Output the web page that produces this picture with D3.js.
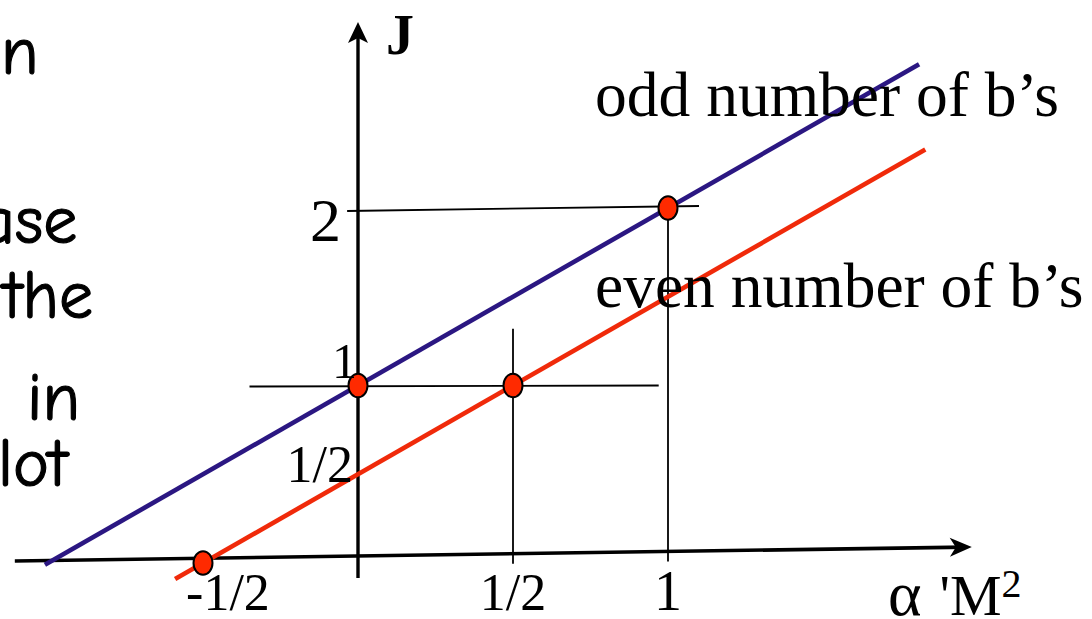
<!DOCTYPE html>
<html>
<head>
<meta charset="utf-8">
<script src="https://cdn.jsdelivr.net/npm/d3@7"></script>
<style>
  html, body { margin: 0; padding: 0; background: #fff; overflow: hidden; }
  svg { display: block; }
</style>
</head>
<body>
<svg id="chart" width="1092" height="619"></svg>
<script>
// Tick values and their labels
const xTickValues = [-0.5, 0.5, 1];
const xTickLabels = ["-1/2", "1/2", "1"];
const yTickValues = [0.5, 1, 2];
const yTickLabels = ["1/2", "1", "2"];

// States sitting on the trajectories: (α'M², J)
const stateM = [-0.5, 0, 0.5, 1];
const stateJ = [0, 1, 1, 2];

// Linear trajectories J = α'M² + intercept
const trajNames = ["odd number of b’s", "even number of b’s"];
const trajIntercepts = [1, 0.5];
const trajFrom = [-1.01, -0.59];
const trajTo = [1.81, 1.83];
const trajColors = ["#2b1782", "#f02a0a"];

// Thin guide lines: horizontals at fixed J, verticals at fixed α'M²
const guideJ = [1, 2];
const guideJFrom = [-0.35, -0.035];
const guideJTo = [0.97, 1.1];
const guideM = [0.5, 1];
const guideMTop = [1.32, 2];

// Side text of the slide: the word endings next to the plot
const sideLines = ["n", "ase", "the", "in", "lot"];

const svg = d3.select("#chart");
const serif = "'Liberation Serif', 'Times New Roman', Times, serif";

const x = d3.scaleLinear().domain([0, 1]).range([358, 668]);
const y = d3.scaleLinear().domain([0, 2]).range([563, 208]);

// horizontal axis runs with a slight upward slope
const tilt = -0.0146;
const axisY = px => y(0) - 7 + tilt * (px - x(0));

// ---- side text ----
const sideFont = "'Comic Sans MS', 'Comic Neue', 'Noto Sans', sans-serif";
const sideLayout = [[1, 74], [-20, 243], [3, 318], [27, 420], [-2, 486]];
svg.append("g").selectAll("text")
  .data(sideLines)
  .join("text")
  .attr("x", (d, i) => sideLayout[i][0])
  .attr("y", (d, i) => sideLayout[i][1])
  .attr("text-anchor", "start")
  .attr("font-family", sideFont)
  .attr("font-size", 68)
  .attr("fill", "#000")
  .attr("stroke", "#000")
  .attr("stroke-width", 1.2)
  .text(d => d);

// ---- guide lines ----
const guides = svg.append("g").attr("stroke", "#000").attr("stroke-width", 1.8).attr("fill", "none");
guides.selectAll("line.gj")
  .data(guideJ)
  .join("line")
  .attr("class", "gj")
  .attr("x1", (d, i) => x(guideJFrom[i]))
  .attr("x2", (d, i) => x(guideJTo[i]))
  .attr("y1", d => y(d) + (d === 2 ? 3 : 1))
  .attr("y2", d => y(d) - (d === 2 ? 2 : 0));
guides.selectAll("line.gm")
  .data(guideM)
  .join("line")
  .attr("class", "gm")
  .attr("x1", d => x(d))
  .attr("x2", d => x(d))
  .attr("y1", (d, i) => y(guideMTop[i]))
  .attr("y2", d => axisY(x(d)) + 10);

// ---- axes ----
const axes = svg.append("g");
const xa0 = x(-1.107), xa1 = x(1.98);
axes.append("line")
  .attr("x1", xa0).attr("y1", axisY(xa0))
  .attr("x2", xa1 - 6).attr("y2", axisY(xa1 - 6))
  .attr("stroke", "#000").attr("stroke-width", 3.6);
const ang = Math.atan(tilt) * 180 / Math.PI;
axes.append("path")
  .attr("d", "M0,0 L-22,-9.5 L-16,0 L-22,9.5 Z")
  .attr("transform", `translate(${xa1},${axisY(xa1)}) rotate(${ang})`)
  .attr("fill", "#000");

const yTop = 22;
axes.append("line")
  .attr("x1", x(0)).attr("x2", x(0))
  .attr("y1", axisY(x(0)) + 22).attr("y2", yTop + 8)
  .attr("stroke", "#000").attr("stroke-width", 3.4);
axes.append("path")
  .attr("d", "M0,0 L-10,21 L0,16 L10,21 Z")
  .attr("transform", `translate(${x(0)},${yTop})`)
  .attr("fill", "#000");

// ---- trajectories ----
const line = d3.line().x(d => x(d[0])).y(d => y(d[1]));
svg.append("g").selectAll("path")
  .data(trajIntercepts)
  .join("path")
  .attr("d", (c, i) => line([[trajFrom[i], trajFrom[i] + c], [trajTo[i], trajTo[i] + c]]))
  .attr("stroke", (c, i) => trajColors[i])
  .attr("stroke-width", 4.6)
  .attr("fill", "none");

// ---- states ----
svg.append("g").selectAll("ellipse")
  .data(stateM)
  .join("ellipse")
  .attr("cx", d => x(d))
  .attr("cy", (d, i) => y(stateJ[i]))
  .attr("rx", 9.5)
  .attr("ry", 11.8)
  .attr("fill", "#ff2a00")
  .attr("stroke", "#000")
  .attr("stroke-width", 2);

// ---- tick labels ----
svg.append("g").selectAll("text")
  .data(xTickValues)
  .join("text")
  .attr("x", d => x(d) + (d < 0 ? 25 : 0))
  .attr("y", 610)
  .attr("text-anchor", "middle")
  .attr("font-family", serif)
  .attr("font-size", (d, i) => xTickLabels[i] === "1" ? 56 : 52)
  .attr("fill", "#000")
  .text((d, i) => xTickLabels[i]);

const yLabelLayout = { "1/2": [353, 8, 52], "1": [357, -8, 50], "2": [341, 33, 62] };
svg.append("g").selectAll("text")
  .data(yTickValues)
  .join("text")
  .attr("x", (d, i) => yLabelLayout[yTickLabels[i]][0])
  .attr("y", (d, i) => y(d) + yLabelLayout[yTickLabels[i]][1])
  .attr("text-anchor", "end")
  .attr("font-family", serif)
  .attr("font-size", (d, i) => yLabelLayout[yTickLabels[i]][2])
  .attr("fill", "#000")
  .text((d, i) => yTickLabels[i]);

// ---- axis titles ----
svg.append("text")
  .attr("x", 386).attr("y", 54)
  .attr("font-family", serif)
  .attr("font-weight", "bold")
  .attr("font-size", 56)
  .text("J");

const xt = svg.append("text")
  .attr("x", 888).attr("y", 615)
  .attr("font-family", serif)
  .attr("font-size", 58)
  .attr("fill", "#000");
xt.append("tspan").attr("font-size", 64).text("α");
xt.append("tspan").attr("dx", 18).text("'M");
xt.append("tspan").attr("font-size", 40).attr("dy", -18).text("2");

// ---- trajectory names ----
const nameY = [116, 307];
svg.append("g").selectAll("text")
  .data(trajNames)
  .join("text")
  .attr("x", 595)
  .attr("y", (d, i) => nameY[i])
  .attr("font-family", serif)
  .attr("font-size", 63.5)
  .attr("fill", "#000")
  .text(d => d);
</script>
</body>
</html>
